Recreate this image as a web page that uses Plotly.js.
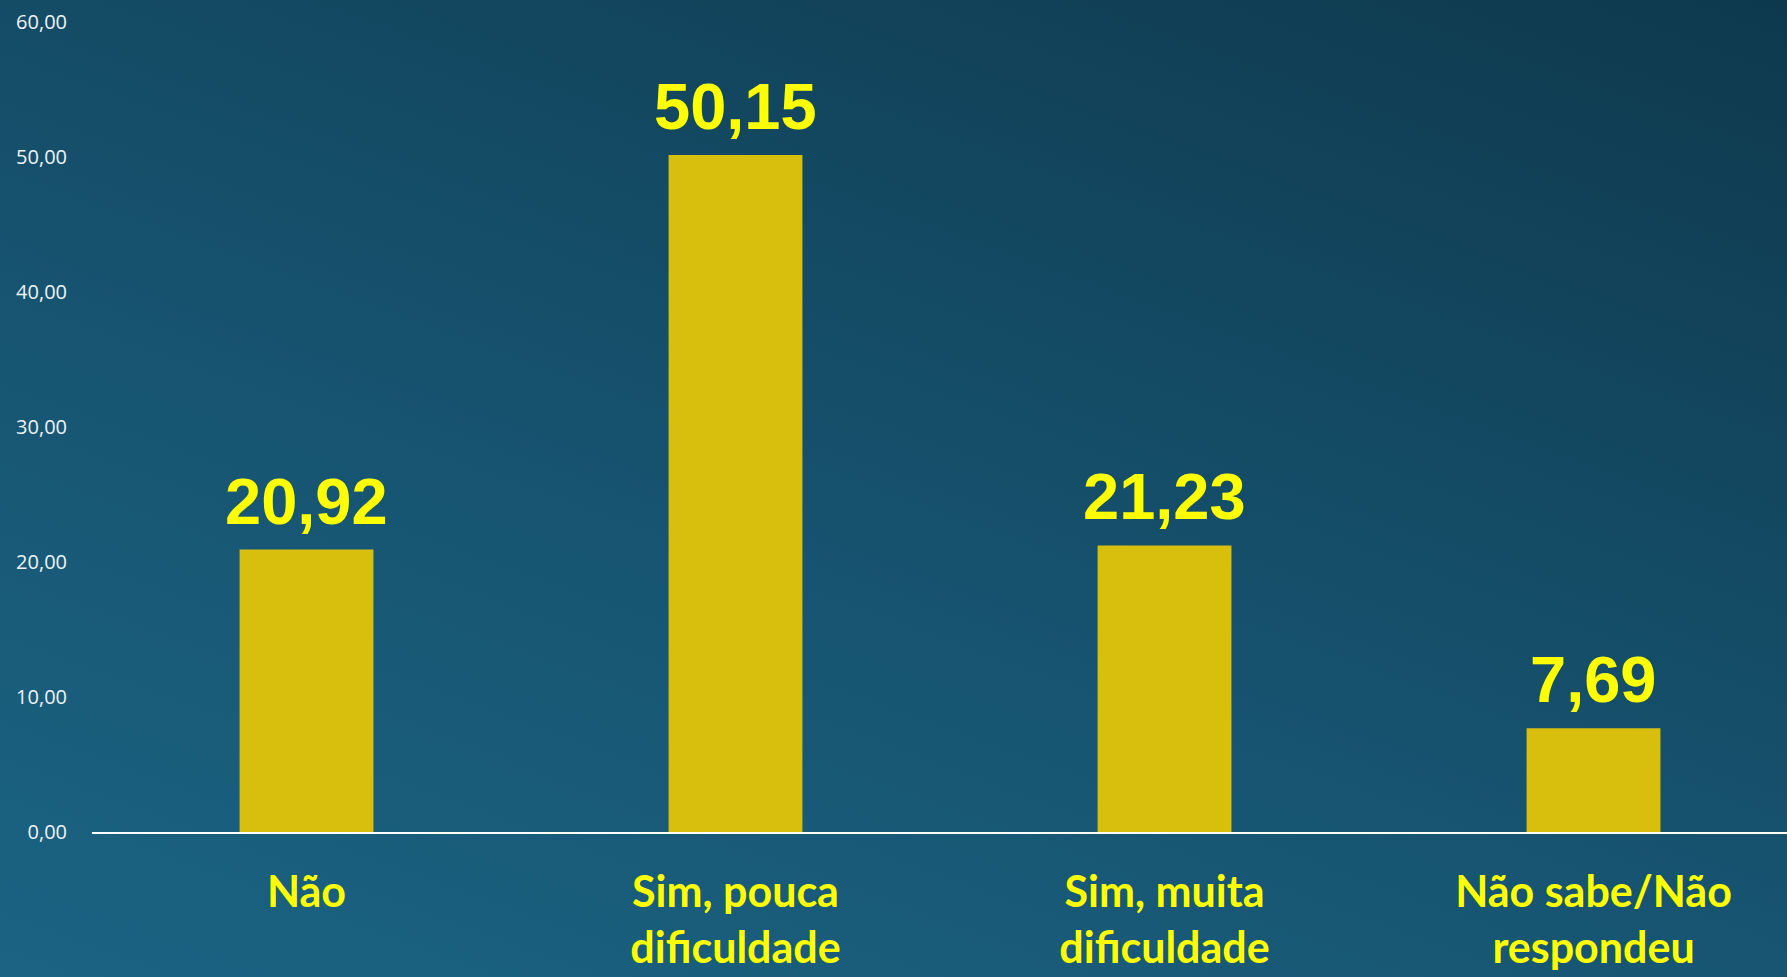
<!DOCTYPE html>
<html>
<head>
<meta charset="utf-8">
<script src="https://cdn.plot.ly/plotly-3.0.1.min.js"></script>
<style>
html, body { margin:0; padding:0; width:1787px; height:977px; overflow:hidden;
  background: linear-gradient(200deg, #0e394d 0%, #134760 30%, #175673 62%, #1b6383 100%); }
#chart { width:1787px; height:977px; }
</style>
</head>
<body>
<div id="chart"></div>
<script>
const categories = ["Não", "Sim, pouca<br>dificuldade", "Sim, muita<br>dificuldade", "Não sabe/Não<br>respondeu"];
const values = [20.92, 50.15, 21.23, 7.69];
const yTicks = [0, 10, 20, 30, 40, 50, 60];

const trace = {
  type: 'bar',
  x: categories,
  y: values,
  width: 0.312,
  marker: { color: '#d8bf0d', line: { width: 0 } },
  hoverinfo: 'skip'
};

const annotations = categories.map((c, i) => ({
  x: c, y: values[i], xref: 'x', yref: 'y',
  text: values[i].toFixed(2).replace('.', ','),
  showarrow: false, yanchor: 'bottom', yshift: 10,
  font: { family: 'Liberation Sans, Arial, sans-serif', size: 65, color: '#ffff00', weight: 'bold' }
}));

const layout = {
  width: 1787, height: 977,
  paper_bgcolor: 'rgba(0,0,0,0)',
  plot_bgcolor: 'rgba(0,0,0,0)',
  margin: { l: 92, r: 0, t: 22, b: 145 },
  separators: ', ',
  showlegend: false,
  xaxis: {
    range: [-0.5, 3.451],
    showgrid: false, zeroline: false,
    showline: true, linecolor: '#ffffff', linewidth: 2,
    ticks: 'outside', ticklen: 21, tickcolor: 'rgba(0,0,0,0)',
    tickfont: { family: 'Lato, Open Sans, sans-serif', size: 43, color: '#ffff00', weight: 'bold' },
    fixedrange: true
  },
  yaxis: {
    range: [0, 60],
    tickvals: yTicks,
    tickformat: '.2f',
    showgrid: false, zeroline: false, showline: false,
    ticks: 'outside', ticklen: 20, tickcolor: 'rgba(0,0,0,0)',
    tickfont: { family: 'Open Sans, sans-serif', size: 20, color: '#eef3f6' },
    fixedrange: true
  },
  annotations: annotations
};

Plotly.newPlot('chart', [trace], layout, { displayModeBar: false, staticPlot: true });
</script>
</body>
</html>
